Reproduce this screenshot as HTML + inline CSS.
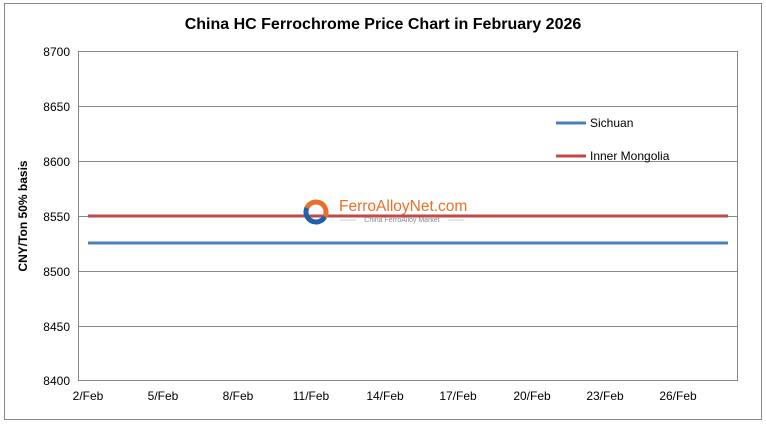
<!DOCTYPE html>
<html><head><style>body{margin:0;background:#fff}</style></head><body>
<svg width="766" height="424" xmlns="http://www.w3.org/2000/svg" font-family="Liberation Sans, Arial, sans-serif">
<rect x="0" y="0" width="766" height="424" fill="#fff"/>
<rect x="4.5" y="3.5" width="757" height="416" fill="none" stroke="#888" stroke-width="1"/>
<text x="383" y="29" text-anchor="middle" font-size="16" font-weight="bold">China HC Ferrochrome Price Chart in February 2026</text>
<g stroke="#888" stroke-width="1">
<line x1="78" y1="51.5" x2="738" y2="51.5"/>
<line x1="78" y1="106.5" x2="738" y2="106.5"/>
<line x1="78" y1="161.5" x2="738" y2="161.5"/>
<line x1="78" y1="216.5" x2="738" y2="216.5"/>
<line x1="78" y1="271.5" x2="738" y2="271.5"/>
<line x1="78" y1="326.5" x2="738" y2="326.5"/>
<line x1="78" y1="380.5" x2="738" y2="380.5"/>
<line x1="78.5" y1="51" x2="78.5" y2="381"/>
<line x1="737.5" y1="51" x2="737.5" y2="381"/>
</g>
<g font-size="12" text-anchor="end">
<text x="70" y="56">8700</text><text x="70" y="111">8650</text><text x="70" y="166">8600</text>
<text x="70" y="221">8550</text><text x="70" y="276">8500</text><text x="70" y="331">8450</text><text x="70" y="385">8400</text>
</g>
<text transform="translate(27,216) rotate(-90)" text-anchor="middle" font-size="12" font-weight="bold">CNY/Ton 50% basis</text>
<g font-size="12" text-anchor="middle">
<text x="88" y="400">2/Feb</text><text x="163" y="400">5/Feb</text><text x="238" y="400">8/Feb</text>
<text x="311" y="400">11/Feb</text><text x="385" y="400">14/Feb</text><text x="458" y="400">17/Feb</text>
<text x="532" y="400">20/Feb</text><text x="605" y="400">23/Feb</text><text x="678" y="400">26/Feb</text>
</g>
<line x1="88" y1="243" x2="728" y2="243" stroke="#4a7ebb" stroke-width="3"/>
<line x1="88" y1="216" x2="728" y2="216" stroke="#be4b48" stroke-width="3"/>
<line x1="556" y1="123" x2="586" y2="123" stroke="#4a7ebb" stroke-width="3"/>
<text x="590" y="127" font-size="12">Sichuan</text>
<line x1="556" y1="156" x2="586" y2="156" stroke="#be4b48" stroke-width="3"/>
<text x="590" y="160" font-size="12">Inner Mongolia</text>
<circle cx="316" cy="212" r="10" fill="none" stroke="#e8702a" stroke-width="5" stroke-dasharray="32 40" transform="rotate(200 316 212)"/>
<circle cx="316" cy="212" r="10" fill="none" stroke="#1f5fb0" stroke-width="5" stroke-dasharray="30 40" transform="rotate(30 316 212)"/>
<text x="339" y="211" font-size="15.5" fill="#e8702a">FerroAlloyNet.com</text>
<line x1="340" y1="220" x2="356" y2="220" stroke="#bbb" stroke-width="0.7"/>
<line x1="448" y1="220" x2="464" y2="220" stroke="#bbb" stroke-width="0.7"/>
<text x="402" y="222" font-size="7" fill="#888" text-anchor="middle">China FerroAlloy Market</text>
</svg>
</body></html>
